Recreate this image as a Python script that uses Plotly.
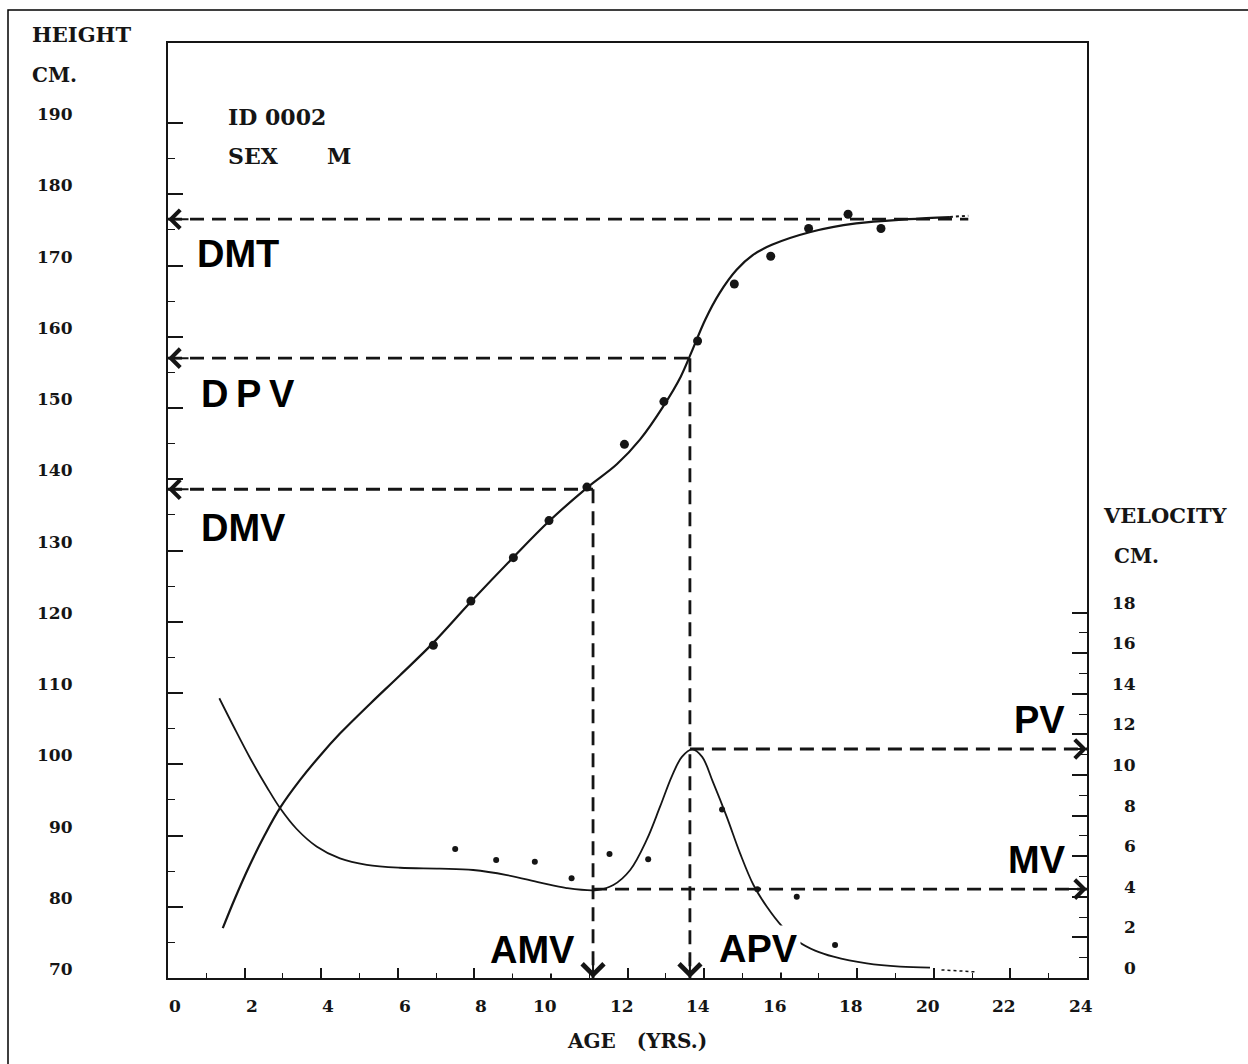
import plotly.graph_objects as go

# ---------------- data ----------------
# observed heights (cm) by age (yrs)
height_age = [6.93, 7.91, 9.02, 9.95, 10.94, 11.92, 12.95, 13.83, 14.79, 15.74, 16.73, 17.76, 18.62]
height_cm = [116.7, 122.9, 129.0, 134.2, 138.9, 144.9, 150.9, 159.4, 167.4, 171.3, 175.2, 177.2, 175.2]

# observed velocities (cm/yr)
vel_age = [7.50, 8.57, 9.58, 10.54, 11.53, 12.54, 14.47, 15.39, 16.42, 17.42]
vel_cm = [6.35, 5.81, 5.73, 4.91, 6.11, 5.85, 8.30, 4.37, 4.00, 1.63]

# fitted height curve
fit_h_age = [1.43, 1.75, 2.14, 2.53, 2.93, 3.45, 3.97, 4.49, 5.28, 6.06, 6.92, 7.91, 9.01,
             9.95, 10.94, 11.72, 12.33, 12.93, 13.39, 13.66, 14.03, 14.40, 14.85, 15.28,
             15.77, 16.78, 17.97, 19.34, 20.42]
fit_h_cm = [77.0, 81.2, 85.9, 90.1, 93.9, 97.8, 101.2, 104.3, 108.5, 112.5, 117.0, 122.8, 129.0,
            134.1, 138.8, 142.1, 145.6, 150.2, 154.4, 157.7, 162.4, 166.1, 169.4, 171.5,
            172.9, 174.7, 175.9, 176.5, 176.8]
tail_h_age = [20.42, 20.9]
tail_h_cm = [176.8, 177.0]

# fitted velocity curve
fit_v_age = [1.34, 1.71, 2.14, 2.58, 2.93, 3.36, 3.88, 4.49, 5.19, 6.06, 7.10, 7.97, 8.85,
             9.72, 10.41, 11.20, 11.63, 12.07, 12.50, 12.85, 13.16, 13.42, 13.69, 13.95,
             14.23, 14.59, 14.94, 15.29, 15.64, 16.03, 16.46, 16.90, 17.38, 18.25, 19.12, 19.90]
fit_v_cm = [13.78, 12.40, 10.85, 9.41, 8.36, 7.34, 6.48, 5.89, 5.57, 5.43, 5.39, 5.32, 5.07,
            4.70, 4.43, 4.33, 4.58, 5.32, 6.80, 8.44, 9.95, 10.89, 11.26, 10.89,
            9.66, 7.95, 6.14, 4.58, 3.51, 2.56, 1.80, 1.35, 1.05, 0.72, 0.56, 0.51]
tail_v_age = [20.2, 21.1]
tail_v_cm = [0.40, 0.30]

# derived markers
DMT, DPV, DMV = 176.5, 157.0, 138.6      # heights (cm)
AMV, APV = 11.1, 13.63                   # ages (yrs)
PV, MV = 11.28, 4.38                     # velocities (cm/yr)

# axes
x_major = list(range(0, 25, 2))
x_minor = list(range(1, 24, 2))
h_major = list(range(70, 191, 10))
h_minor = list(range(75, 190, 10))
v_major = list(range(0, 19, 2))
v_minor = list(range(1, 18, 2))

# ---------------- layout geometry ----------------
W, H = 1248, 1064
L, R, T, B = 168, 1087, 43, 978
PW, PH = R - L, B - T
H_RANGE = [70, 70 + PH / 7.125]
V_RANGE = [0, PH / 20.3]

def px(xp):
    return (xp - L) / PW

def py(yp):
    return (B - yp) / PH

INK = "#151515"
SERIF = "DejaVu Serif"
SANS = "Liberation Sans"
DASH = "14px,8px"

fig = go.Figure()

dash_line = dict(color=INK, width=2.8, dash=DASH)
# guide lines (dashed)
fig.add_trace(go.Scatter(x=[0, 20.9], y=[DMT, DMT], mode="lines", line=dash_line, hoverinfo="skip"))
fig.add_trace(go.Scatter(x=[0, APV], y=[DPV, DPV], mode="lines", line=dash_line, hoverinfo="skip"))
fig.add_trace(go.Scatter(x=[0, AMV], y=[DMV, DMV], mode="lines", line=dash_line, hoverinfo="skip"))
fig.add_trace(go.Scatter(x=[AMV, AMV], y=[DMV, H_RANGE[0]], mode="lines", line=dash_line, hoverinfo="skip"))
fig.add_trace(go.Scatter(x=[APV, APV], y=[DPV, H_RANGE[0]], mode="lines", line=dash_line, hoverinfo="skip"))
fig.add_trace(go.Scatter(x=[APV, 24], y=[PV, PV], mode="lines", yaxis="y2", line=dash_line, hoverinfo="skip"))
fig.add_trace(go.Scatter(x=[AMV, 24], y=[MV, MV], mode="lines", yaxis="y2", line=dash_line, hoverinfo="skip"))

# fitted curves
fig.add_trace(go.Scatter(x=fit_h_age, y=fit_h_cm, mode="lines",
                         line=dict(color=INK, width=2.2, shape="spline", smoothing=1.0)))
fig.add_trace(go.Scatter(x=tail_h_age, y=tail_h_cm, mode="lines",
                         line=dict(color=INK, width=2, dash="dot")))
fig.add_trace(go.Scatter(x=fit_v_age, y=fit_v_cm, mode="lines", yaxis="y2",
                         line=dict(color=INK, width=1.8, shape="spline", smoothing=1.0)))
fig.add_trace(go.Scatter(x=tail_v_age, y=tail_v_cm, mode="lines", yaxis="y2",
                         line=dict(color=INK, width=1.5, dash="dot")))

# observations
fig.add_trace(go.Scatter(x=height_age, y=height_cm, mode="markers",
                         marker=dict(color=INK, size=9)))
fig.add_trace(go.Scatter(x=vel_age, y=vel_cm, mode="markers", yaxis="y2",
                         marker=dict(color=INK, size=6)))

ann = []
# arrow heads
for yv in (DMT, DPV, DMV):
    ann.append(dict(x=0, y=yv, xref="x", yref="y", ax=22, ay=0, text="", showarrow=True,
                    arrowhead=4, arrowsize=1.8, arrowwidth=2, arrowcolor=INK))
for xv in (AMV, APV):
    ann.append(dict(x=xv, y=H_RANGE[0], xref="x", yref="y", ax=0, ay=-22, text="", showarrow=True,
                    arrowhead=4, arrowsize=2.1, arrowwidth=2, arrowcolor=INK))
for yv in (PV, MV):
    ann.append(dict(x=24, y=yv, xref="x", yref="y2", ax=-22, ay=0, text="", showarrow=True,
                    arrowhead=4, arrowsize=1.8, arrowwidth=2, arrowcolor=INK))

# big bold labels
lab_font = dict(family=SANS, size=38, color="black", weight="bold")
def label(text, xp, yp, xanchor):
    ann.append(dict(text=text, x=px(xp), y=py(yp), xref="paper", yref="paper",
                    xanchor=xanchor, yanchor="middle", showarrow=False, font=lab_font,
                    bgcolor="white", borderpad=2))
label("DMT", 194, 254, "left")
label("D\u2009P\u2009V", 198, 394, "left")
label("DMV", 198, 528, "left")
label("AMV", 578, 950, "right")
label("APV", 716, 949, "left")
label("PV", 1068, 720, "right")
label("MV", 1069, 860, "right")

# scan-style text
tf = dict(family=SERIF, size=17, color=INK, weight="bold")
for v in h_major:
    ann.append(dict(text=str(v), x=px(75), y=v, xref="paper", yref="y", xanchor="right",
                    yanchor="middle", yshift=9, showarrow=False, font=tf))
for v in v_major:
    ann.append(dict(text=str(v), x=px(1138), y=v, xref="paper", yref="y2", xanchor="right",
                    yanchor="middle", yshift=10, showarrow=False, font=tf))
for v in x_major:
    ann.append(dict(text=str(v), x=v, y=py(1006), xref="x", yref="paper", xanchor="center",
                    yanchor="middle", xshift=7 if v < 10 else -6, showarrow=False, font=tf))

def txt(text, xp, yp, size=20, xanchor="left"):
    ann.append(dict(text=text, x=px(xp), y=py(yp), xref="paper", yref="paper",
                    xanchor=xanchor, yanchor="middle", showarrow=False,
                    font=dict(family=SERIF, size=size, color=INK, weight="bold")))
txt("HEIGHT", 30, 34, size=21)
txt("CM.", 30, 75)
txt("VELOCITY", 1101, 515, size=21)
txt("CM.", 1112, 556)
txt("AGE\u00a0\u00a0\u00a0(YRS.)", 637, 1041, xanchor="center")
txt("ID 0002", 226, 117, size=22)
txt("SEX", 226, 156, size=22)
txt("M", 325, 156, size=22)

axis_common = dict(showgrid=False, zeroline=False, showline=True, linecolor=INK, linewidth=2,
                   ticks="inside", tickcolor=INK, tickwidth=1.6, showticklabels=False)

fig.update_layout(
    width=W, height=H,
    margin=dict(l=L, r=W - R, t=T, b=H - B),
    paper_bgcolor="white", plot_bgcolor="white",
    showlegend=False,
    xaxis=dict(range=[0, 24], tickvals=x_major, ticklen=10, mirror=True,
               minor=dict(tickvals=x_minor, ticklen=5, ticks="inside", tickcolor=INK, tickwidth=1.4),
               **axis_common),
    yaxis=dict(range=H_RANGE, tickvals=h_major, ticklen=15,
               minor=dict(tickvals=h_minor, ticklen=7, ticks="inside", tickcolor=INK, tickwidth=1.4),
               **axis_common),
    yaxis2=dict(range=V_RANGE, overlaying="y", side="right", tickvals=v_major, ticklen=15,
                minor=dict(tickvals=v_minor, ticklen=8, ticks="inside", tickcolor=INK, tickwidth=1.4),
                **axis_common),
    annotations=ann,
    shapes=[dict(type="rect", xref="paper", yref="paper",
                 x0=px(8), y0=py(10), x1=px(1300), y1=py(1120),
                 line=dict(color="black", width=1.5), layer="below")],
)

fig.write_html("out.html")
